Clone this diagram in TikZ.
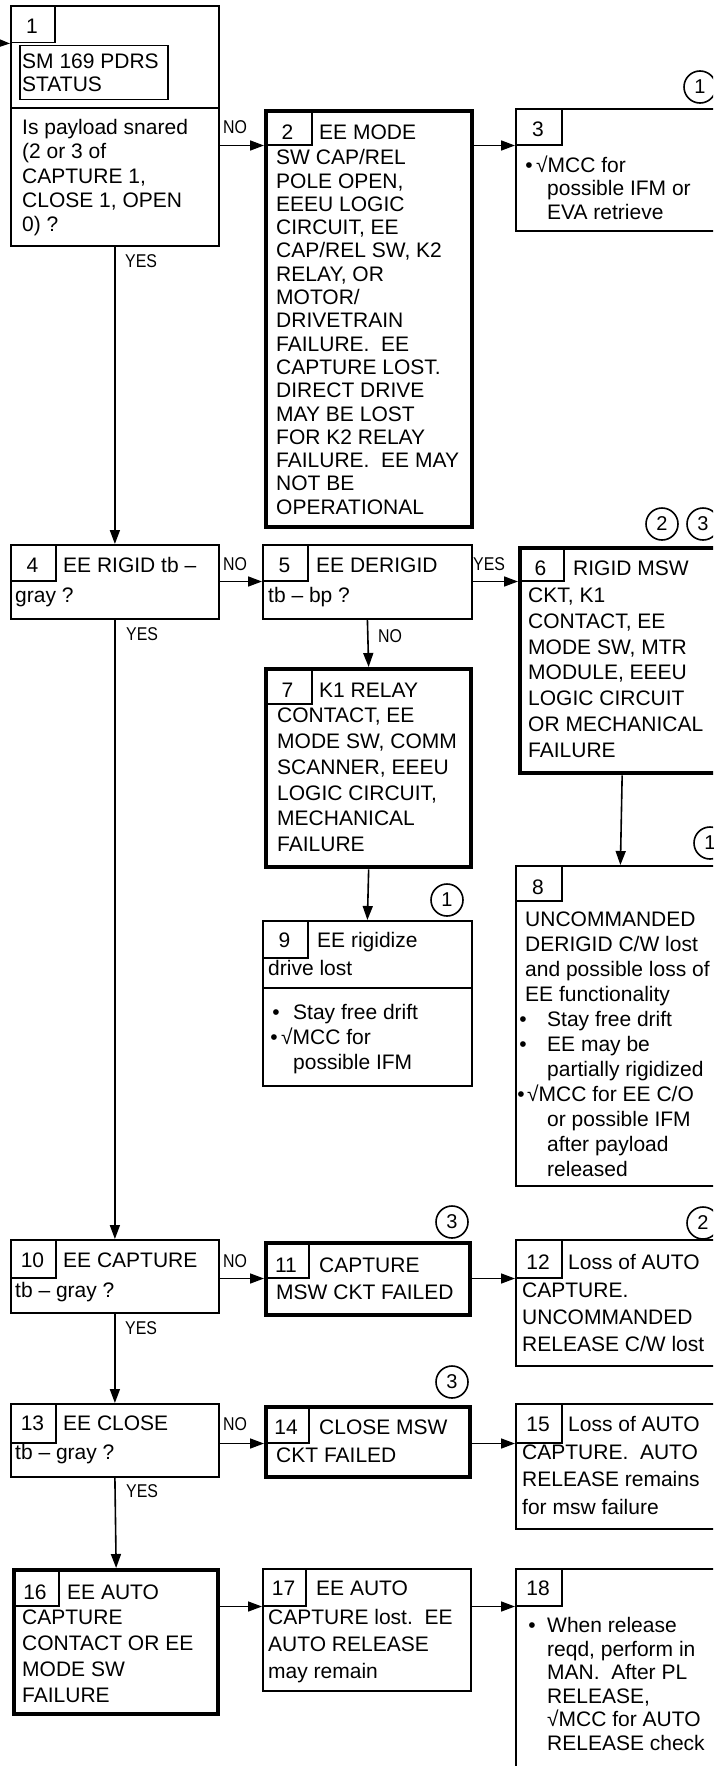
\documentclass[tikz,border=0pt]{standalone}
\usepackage{fontspec}
\setmainfont{Liberation Sans}
\newfontfamily\narrowfont[FakeStretch=0.86]{Liberation Sans}
\usetikzlibrary{arrows.meta}
\newcommand\fs{\rule{0pt}{16pt}}
\tikzset{
 box/.style={draw, line width=1.8pt, inner sep=0pt, anchor=north west},
 heavybox/.style={draw, line width=4.3pt, inner sep=0pt, anchor=north west},
 numbox/.style={draw, line width=1.5pt, inner sep=0pt, anchor=north west},
 lbl/.style={anchor=base west, inner sep=0pt, font=\fontsize{21}{24}\selectfont},
 numlbl/.style={anchor=base, inner sep=0pt, font=\fontsize{21}{24}\selectfont},
 para/.style={anchor=north west, inner sep=0pt, align=left, font=\fontsize{21}{#1}\selectfont},
 yn/.style={anchor=base west, inner sep=0pt, font=\narrowfont\fontsize{18.5}{20}\selectfont},
 refc/.style={draw, circle, line width=1.6pt, minimum size=32pt, inner sep=0pt, font=\fontsize{20}{22}\selectfont},
 divline/.style={line width=1.8pt},
 conn/.style={line width=1.6pt},
 arr/.style={line width=1.6pt, -{Triangle[length=14pt,width=10pt]}},
}
\begin{document}
\begin{tikzpicture}[x=1pt, y=-1pt]
\useasboundingbox (0,0) rectangle (713,1766);
\clip (0,0) rectangle (713,1766);

% ---------- boxes ----------
\node[box, minimum width=208, minimum height=240] (b1) at (10,5) {};
\node[box, minimum width=208, minimum height=74] (b4) at (10,544) {};
\node[box, minimum width=208, minimum height=73] (b10) at (10,1239) {};
\node[box, minimum width=208, minimum height=73] (b13) at (10,1403) {};
\node[heavybox, minimum width=204, minimum height=144] (b16) at (12,1568) {};

\node[heavybox, minimum width=206, minimum height=416] (b2) at (264,109) {};
\node[box, minimum width=209, minimum height=74] (b5) at (262,544) {};
\node[heavybox, minimum width=205, minimum height=198] (b7) at (264,667) {};
\node[box, minimum width=209, minimum height=165] (b9) at (262,920) {};
\node[heavybox, minimum width=204, minimum height=72] (b11) at (264,1241) {};
\node[heavybox, minimum width=204, minimum height=70] (b14) at (264,1405) {};
\node[box, minimum width=208, minimum height=122] (b17) at (262,1568) {};

\node[box, minimum width=209, minimum height=122] (b3) at (515,108) {};
\node[heavybox, minimum width=204, minimum height=225] (b6) at (518,546) {};
\node[box, minimum width=209, minimum height=320] (b8) at (515,865) {};
\node[box, minimum width=209, minimum height=126] (b12) at (515,1239) {};
\node[box, minimum width=209, minimum height=125] (b15) at (515,1403) {};
\node[box, minimum width=209, minimum height=250] (b18) at (515,1568) {};

% ---------- number boxes ----------
\node[numbox, minimum width=44, minimum height=37] (b1n) at (10,5) {};
\node[numbox, minimum width=47, minimum height=35] (b2n) at (264,109) {};
\node[numbox, minimum width=46, minimum height=36] (b3n) at (515,108) {};
\node[numbox, minimum width=45, minimum height=36] (b4n) at (10,544) {};
\node[numbox, minimum width=45, minimum height=36] (b5n) at (262,544) {};
\node[numbox, minimum width=45, minimum height=34] (b6n) at (518,546) {};
\node[numbox, minimum width=47, minimum height=36] (b7n) at (264,667) {};
\node[numbox, minimum width=46, minimum height=35] (b8n) at (515,865) {};
\node[numbox, minimum width=45, minimum height=37] (b9n) at (262,920) {};
\node[numbox, minimum width=45, minimum height=38] (b10n) at (10,1239) {};
\node[numbox, minimum width=44, minimum height=36] (b11n) at (264,1241) {};
\node[numbox, minimum width=46, minimum height=38] (b12n) at (515,1239) {};
\node[numbox, minimum width=45, minimum height=39] (b13n) at (10,1403) {};
\node[numbox, minimum width=44, minimum height=37] (b14n) at (264,1405) {};
\node[numbox, minimum width=46, minimum height=39] (b15n) at (515,1403) {};
\node[numbox, minimum width=46, minimum height=37] (b16n) at (12,1568) {};
\node[numbox, minimum width=43, minimum height=37] (b17n) at (262,1568) {};
\node[numbox, minimum width=46, minimum height=37] (b18n) at (515,1568) {};

% ---------- dividers and inner frame ----------
\draw[divline] (10,108) -- (218,108);
\draw[divline] (262,988) -- (471,988);
\node[numbox, minimum width=148, minimum height=54] (sm) at (19,45) {};

% ---------- texts ----------
\node[numlbl] (b1k) at (32,34) {1};
\node[para=23.5] (b1s) at (22,52) {\fs SM 169 PDRS\\STATUS};
\node[para=24.2] (b1q) at (22,118.5) {\fs Is payload snared\\(2 or 3 of\\CAPTURE 1,\\CLOSE 1, OPEN\\0) ?};

\node[numlbl] (b2k) at (287.5,139.5) {2};
\node[lbl] (b2a) at (319,139.5) {EE MODE};
\node[para=23.3] (b2b) at (276,148.5) {\fs SW CAP/REL\\POLE OPEN,\\EEEU LOGIC\\CIRCUIT, EE\\CAP/REL SW, K2\\RELAY, OR\\MOTOR/\\DRIVETRAIN\\FAILURE.\ \ EE\\CAPTURE LOST.\\DIRECT DRIVE\\MAY BE LOST\\FOR K2 RELAY\\FAILURE.\ \ EE MAY\\NOT BE\\OPERATIONAL};

\node[numlbl] (b3k) at (538,136) {3};
\node[numlbl] (b3d) at (529,172) {•};
\node[lbl] (b3a) at (536,172) {√MCC for};
\node[para=24.5] (b3b) at (547,179) {\fs possible IFM or\\EVA retrieve};

\node[numlbl] (b4k) at (32.5,572) {4};
\node[lbl] (b4a) at (63,572) {EE RIGID tb –};
\node[lbl] (b4b) at (15,602) {gray ?};

\node[numlbl] (b5k) at (284.5,572) {5};
\node[lbl] (b5a) at (316,572) {EE DERIGID};
\node[lbl] (b5b) at (268,602) {tb – bp ?};

\node[numlbl] (b6k) at (540.5,575) {6};
\node[lbl] (b6a) at (573,575) {RIGID MSW};
\node[para=25.9] (b6b) at (528,586) {\fs CKT, K1\\CONTACT, EE\\MODE SW, MTR\\MODULE, EEEU\\LOGIC CIRCUIT\\OR MECHANICAL\\FAILURE};

\node[numlbl] (b7k) at (287.5,697.5) {7};
\node[lbl] (b7a) at (319,697.5) {K1 RELAY};
\node[para=25.8] (b7b) at (277,706.5) {\fs CONTACT, EE\\MODE SW, COMM\\SCANNER, EEEU\\LOGIC CIRCUIT,\\MECHANICAL\\FAILURE};

\node[numlbl] (b8k) at (538,894) {8};
\node[para=24.9] (b8a) at (525,910.5) {\fs UNCOMMANDED\\DERIGID C/W lost\\and possible loss of\\EE functionality};
\node[numlbl] (b8d1) at (523,1026) {•};
\node[para=24.9] (b8b) at (547,1010) {\fs Stay free drift\\EE may be\\partially rigidized};
\node[numlbl] (b8d2) at (523,1051) {•};
\node[numlbl] (b8d3) at (521,1101) {•};
\node[lbl] (b8c) at (527,1101) {√MCC for EE C/O};
\node[para=24.9] (b8e) at (547,1110) {\fs or possible IFM\\after payload\\released};

\node[numlbl] (b9k) at (284.5,947) {9};
\node[lbl] (b9a) at (317,947) {EE rigidize};
\node[lbl] (b9b) at (268,975.5) {drive lost};
\node[numlbl] (b9d1) at (276,1019.5) {•};
\node[lbl] (b9c) at (293,1019.5) {Stay free drift};
\node[numlbl] (b9d2) at (274,1044.5) {•};
\node[lbl] (b9e) at (281,1044.5) {√MCC for};
\node[lbl] (b9f) at (293,1069.5) {possible IFM};

\node[numlbl] (b10k) at (32.5,1267.5) {10};
\node[lbl] (b10a) at (63,1267.5) {EE CAPTURE};
\node[lbl] (b10b) at (15,1297.5) {tb – gray ?};

\node[numlbl] (b11k) at (286,1272.5) {11};
\node[lbl] (b11a) at (319,1272.5) {CAPTURE};
\node[lbl] (b11b) at (276,1299) {MSW CKT FAILED};

\node[numlbl] (b12k) at (538,1269.5) {12};
\node[lbl] (b12a) at (568,1269.5) {Loss of AUTO};
\node[para=26.8] (b12b) at (522,1281.5) {\fs CAPTURE.\\UNCOMMANDED\\RELEASE C/W lost};

\node[numlbl] (b13k) at (32.5,1430.5) {13};
\node[lbl] (b13a) at (63,1430.5) {EE CLOSE};
\node[lbl] (b13b) at (15,1459.5) {tb – gray ?};

\node[numlbl] (b14k) at (286,1434.5) {14};
\node[lbl] (b14a) at (319,1434.5) {CLOSE MSW};
\node[lbl] (b14b) at (276,1462) {CKT FAILED};

\node[numlbl] (b15k) at (538,1431.5) {15};
\node[lbl] (b15a) at (568,1431.5) {Loss of AUTO};
\node[para=27.2] (b15b) at (522,1443.5) {\fs CAPTURE.\ \ AUTO\\RELEASE remains\\for msw failure};

\node[numlbl] (b16k) at (35,1599.5) {16};
\node[lbl] (b16a) at (67,1599.5) {EE AUTO};
\node[para=25.9] (b16b) at (22,1608.5) {\fs CAPTURE\\CONTACT OR EE\\MODE SW\\FAILURE};

\node[numlbl] (b17k) at (283.5,1595.5) {17};
\node[lbl] (b17a) at (316,1595.5) {EE AUTO};
\node[para=26.7] (b17b) at (268,1608.5) {\fs CAPTURE lost.\ \ EE\\AUTO RELEASE\\may remain};

\node[numlbl] (b18k) at (538,1595) {18};
\node[numlbl] (b18d) at (532,1632.5) {•};
\node[para=23.5] (b18a) at (547,1616.5) {\fs When release\\reqd, perform in\\MAN.\ \ After PL\\RELEASE,\\√MCC for AUTO\\RELEASE check};

% ---------- reference circles ----------
\node[refc] (r1) at (700,87) {1};
\node[refc] (r2) at (662,524) {2};
\node[refc] (r3) at (703,524) {3};
\node[refc] (r4) at (710,843) {1};
\node[refc] (r5) at (447,900) {1};
\node[refc] (r6) at (452,1222) {3};
\node[refc] (r7) at (703,1223) {2};
\node[refc] (r8) at (452,1382) {3};

% ---------- connectors ----------
\coordinate (entry) at (-30,42);
\draw[arr] (entry) -- (b1.west |- b1n.south);
\draw[arr] (b1.east |- b2n.south) -- (b2.west |- b2n.south);
\draw[arr] (b2.east |- b3n.south) -- (b3.west |- b3n.south);
\draw[arr] (b4.east |- b5n.south) -- (b5.west |- b5n.south);
\draw[arr] (b5.east |- b6n.south) -- (b6.west |- b6n.south);
\draw[arr] (b10.east |- b11n.south) -- (b11.west |- b11n.south);
\draw[arr] (b11.east |- b12n.south) -- (b12.west |- b12n.south);
\draw[arr] (b13.east |- b14n.south) -- (b14.west |- b14n.south);
\draw[arr] (b14.east |- b15n.south) -- (b15.west |- b15n.south);
\draw[arr] (b16.east |- b17n.south) -- (b17.west |- b17n.south);
\draw[arr] (b17.east |- b18n.south) -- (b18.west |- b18n.south);

\draw[arr] (b1.south) -- (b4.north);
\draw[arr] (b4.south) -- (b10.north);
\draw[arr] (b10.south) -- (b13.north);
\draw[arr] (b13.south) -- (b16.north);
\draw[arr] (b5.south) -- (b7.north);
\draw[arr] (b7.south) -- (b9.north);
\draw[arr] (b6.south) -- (b8.north);

% ---------- YES / NO labels ----------
\node[yn] (l1) at (223,133) {NO};
\node[yn] (l2) at (125,267) {YES};
\node[yn] (l3) at (223,570) {NO};
\node[yn] (l4) at (126,640) {YES};
\node[yn] (l5) at (473,570) {YES};
\node[yn] (l6) at (378,642) {NO};
\node[yn] (l7) at (223,1267) {NO};
\node[yn] (l8) at (125,1334) {YES};
\node[yn] (l9) at (223,1430) {NO};
\node[yn] (l10) at (126,1497) {YES};
\end{tikzpicture}
\end{document}
